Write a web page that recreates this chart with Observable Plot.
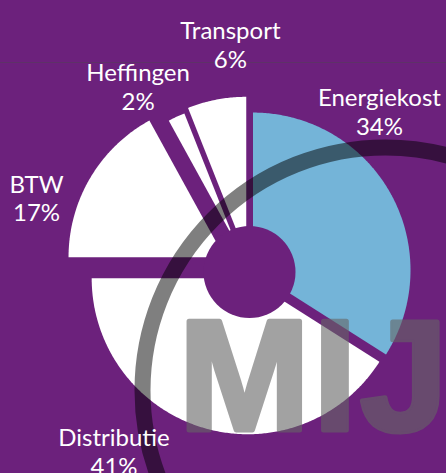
<!DOCTYPE html>
<html><head><meta charset="utf-8">
<script src="https://cdn.jsdelivr.net/npm/d3@7"></script>
<script src="https://cdn.jsdelivr.net/npm/@observablehq/plot@0.6"></script>
<style>html,body{margin:0;padding:0;background:#6c217c;overflow:hidden}#chart svg{display:block}</style>
</head><body><div id="chart"></div>
<script>
// ---- data ----
const categories = ["Energiekost", "Distributie", "BTW", "Heffingen", "Transport"];
const shares = [34, 41, 17, 2, 6];
const watermarkText = ["MIJ"];

// ---- style / layout ----
const PURPLE = "#6c217c";
const sliceFill = ["#74b4d8", "#ffffff", "#ffffff", "#ffffff", "#ffffff"];
const explode = [4, 6.5, 29, 34.5, 17.5];
const outerR = [157.5, 156, 156, 137, 158];
const labelAngle = [38.9, 217.05, 289.2, 329.1, 355.2];
const labelRadius = [206.9, 224.9, 225.5, 216.9, 228.3];
const center = {x: 249, y: 271.5};
const holeR = 46;

const W = 446, H = 473;

const pie = d3.pie().sort(null).value(d => d)(shares);
const slices = pie.map((p, i) => {
  const mid = (p.startAngle + p.endAngle) / 2;
  const cx = center.x + explode[i] * Math.sin(mid);
  const cy = center.y - explode[i] * Math.cos(mid);
  const pts = [{x: cx, y: cy}];
  const n = Math.max(2, Math.ceil((p.endAngle - p.startAngle) / 0.01));
  for (let k = 0; k <= n; k++) {
    const a = p.startAngle + (p.endAngle - p.startAngle) * k / n;
    pts.push({x: cx + outerR[i] * Math.sin(a), y: cy - outerR[i] * Math.cos(a)});
  }
  return pts;
});

const labels = categories.map((c, i) => {
  const a = labelAngle[i] * Math.PI / 180;
  return {
    text: `${c}\n${shares[i]}%`,
    x: center.x + labelRadius[i] * Math.sin(a),
    y: center.y - labelRadius[i] * Math.cos(a)
  };
});

const chart = Plot.plot({
  width: W, height: H,
  margin: 0,
  x: {domain: [0, W], range: [0, W], axis: null},
  y: {domain: [0, H], range: [0, H], axis: null},
  style: {background: PURPLE, overflow: "hidden"},
  marks: [
    Plot.ruleY([62], {stroke: "#4a4a4a", strokeOpacity: 0.4, strokeWidth: 1.2}),
    ...slices.map((pts, i) => Plot.line(pts, {x: "x", y: "y", fill: sliceFill[i], stroke: "none"})),
    Plot.dot([center], {x: "x", y: "y", r: holeR, fill: PURPLE, stroke: "none"}),
    Plot.dot([{x: 385, y: 390}], {x: "x", y: "y", r: 243, fill: "none", stroke: "#000", strokeOpacity: 0.5, strokeWidth: 16}),
    Plot.text(watermarkText, {x: () => 178, y: () => 379, text: d => d, textAnchor: "start",
      fontSize: 158, fontWeight: "bold", fontFamily: "Liberation Sans, Arial, sans-serif",
      fill: "#666", stroke: "#666", strokeWidth: 5, opacity: 0.6}),
    Plot.text(labels, {x: "x", y: "y", text: "text", fill: "white", fontSize: 24,
      lineHeight: 1.2, fontFamily: "Lato, sans-serif", textAnchor: "middle"})
  ]
});
chart.querySelectorAll("text").forEach(t => {
  if (t.textContent === "MIJ") t.setAttribute("letter-spacing", "3");
});
document.getElementById("chart").append(chart);
</script>
</body></html>
